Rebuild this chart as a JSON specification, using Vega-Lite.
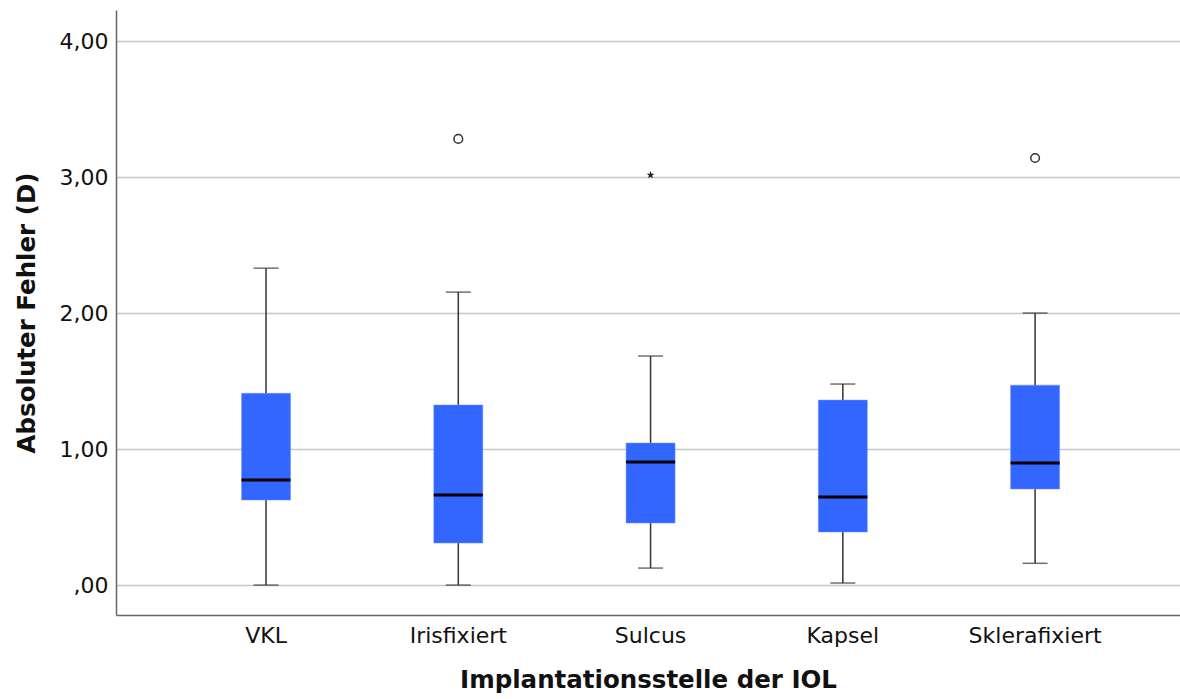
{
  "$schema": "https://vega.github.io/schema/vega-lite/v6.json",
  "width": 1064,
  "height": 605,
  "autosize": {"type": "none"},
  "padding": {"left": 116, "top": 10, "right": 0, "bottom": 84},
  "background": "white",
  "config": {
    "font": "DejaVu Sans",
    "view": {"stroke": null},
    "axis": {"labelColor": "#111", "titleColor": "#111", "labelFont": "DejaVu Sans", "titleFont": "DejaVu Sans"}
  },
  "datasets": {
    "boxes": [
      {"stelle": "VKL", "low": 0.0, "q1": 0.625, "median": 0.772, "q3": 1.41, "high": 2.33},
      {"stelle": "Irisfixiert", "low": 0.0, "q1": 0.309, "median": 0.662, "q3": 1.324, "high": 2.154},
      {"stelle": "Sulcus", "low": 0.125, "q1": 0.456, "median": 0.904, "q3": 1.044, "high": 1.684},
      {"stelle": "Kapsel", "low": 0.015, "q1": 0.39, "median": 0.647, "q3": 1.36, "high": 1.478},
      {"stelle": "Sklerafixiert", "low": 0.16, "q1": 0.706, "median": 0.897, "q3": 1.47, "high": 2.0}
    ],
    "outliers": [
      {"stelle": "Irisfixiert", "wert": 3.28},
      {"stelle": "Sklerafixiert", "wert": 3.14}
    ],
    "extremes": [
      {"stelle": "Sulcus", "wert": 3.015}
    ]
  },
  "encoding": {
    "x": {
      "field": "stelle", "type": "nominal",
      "sort": ["VKL", "Irisfixiert", "Sulcus", "Kapsel", "Sklerafixiert"],
      "scale": {"paddingInner": 0, "paddingOuter": 0.267, "align": 0.525},
      "axis": {
        "title": "Implantationsstelle der IOL",
        "titleFontSize": 24.5, "titleFontWeight": "bold", "titlePadding": 22,
        "labelFontSize": 22, "labelAngle": 0, "labelPadding": 10,
        "ticks": false, "domainColor": "#666", "domainWidth": 1.5, "grid": false
      }
    }
  },
  "layer": [
    {
      "data": {"name": "boxes"},
      "mark": {"type": "rule", "color": "#333", "strokeWidth": 1.5},
      "encoding": {
        "y": {
          "field": "low", "type": "quantitative",
          "scale": {"domain": [-0.22, 4.228], "nice": false, "zero": false},
          "axis": {
            "title": "Absoluter Fehler (D)",
            "titleFontSize": 24.5, "titleFontWeight": "bold", "titlePadding": 20,
            "labelFontSize": 22, "labelPadding": 8, "ticks": false,
            "values": [0, 1, 2, 3, 4],
            "labelExpr": "datum.value == 0 ? ',00' : replace(format(datum.value, '.2f'), '.', ',')",
            "gridColor": "#c8c8c8", "gridWidth": 1.5,
            "domainColor": "#666", "domainWidth": 1.5
          }
        },
        "y2": {"field": "high"}
      }
    },
    {
      "data": {"name": "boxes"},
      "mark": {"type": "tick", "color": "#333", "size": 25, "thickness": 1.5},
      "encoding": {"y": {"field": "low", "type": "quantitative"}}
    },
    {
      "data": {"name": "boxes"},
      "mark": {"type": "tick", "color": "#333", "size": 25, "thickness": 1.5},
      "encoding": {"y": {"field": "high", "type": "quantitative"}}
    },
    {
      "data": {"name": "boxes"},
      "mark": {"type": "bar", "color": "#3366ff", "size": 49, "stroke": "#6f93ff", "strokeWidth": 0.5},
      "encoding": {
        "y": {"field": "q1", "type": "quantitative"},
        "y2": {"field": "q3"}
      }
    },
    {
      "data": {"name": "boxes"},
      "mark": {"type": "tick", "color": "#000", "size": 49, "thickness": 3, "opacity": 1},
      "encoding": {"y": {"field": "median", "type": "quantitative"}}
    },
    {
      "data": {"name": "outliers"},
      "mark": {"type": "point", "shape": "circle", "filled": false, "color": "#333", "size": 75, "strokeWidth": 1.5, "opacity": 1},
      "encoding": {"y": {"field": "wert", "type": "quantitative"}}
    },
    {
      "data": {"name": "extremes"},
      "mark": {"type": "point", "shape": "M0,-1L0.235,-0.324L0.951,-0.309L0.38,0.124L0.588,0.809L0,0.4L-0.588,0.809L-0.38,0.124L-0.951,-0.309L-0.235,-0.324Z", "filled": true, "color": "#222", "size": 70, "opacity": 1},
      "encoding": {"y": {"field": "wert", "type": "quantitative"}}
    }
  ]
}
